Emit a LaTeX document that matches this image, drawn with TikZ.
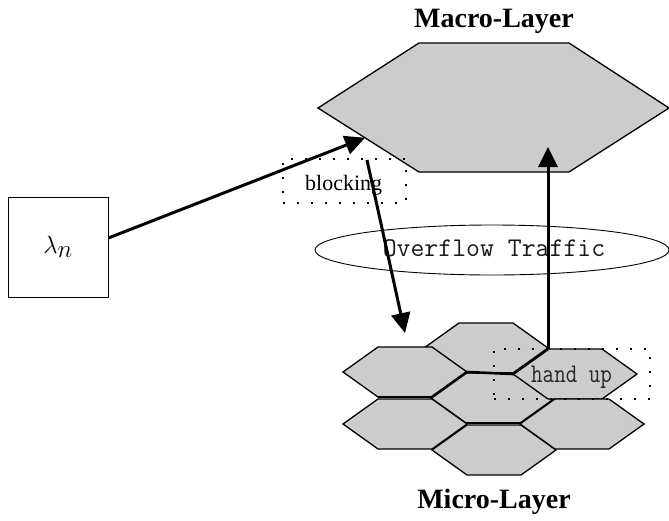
\documentclass[tikz,border=0pt]{standalone}
\usepackage{fontspec}
\setmainfont{Liberation Serif}
\usetikzlibrary{arrows.meta,calc,shapes.geometric}
\begin{document}
\begin{tikzpicture}[x=1pt,y=-1pt,
  hexcell/.style={fill=black!20, draw=black, line width=1.3pt, line join=miter},
  seam/.style={line width=2.6pt, line join=miter},
  flow/.style={line width=3pt, -{Triangle[length=20pt,width=19pt]}},
  dotbox/.style={draw=black, line width=1.8pt, dash pattern=on 1.8pt off 12.2pt},
  layerlbl/.style={font=\bfseries\fontsize{28}{28}\selectfont, anchor=base, inner sep=0pt},
  micro/.pic={\path[hexcell] (-62,0) coordinate (-l) -- (-27,-25) coordinate (-tl)
      -- (27,-25) coordinate (-tr) -- (62,0) coordinate (-r) -- (27,25) coordinate (-br)
      -- (-27,25) coordinate (-bl) -- cycle;}
]
\useasboundingbox (0,0) rectangle (669,520);

% macro layer
\path[hexcell] (318,108) coordinate (M-l) -- (419,43) coordinate (M-tl)
  -- (569,43) coordinate (M-tr) -- (669,108) coordinate (M-r)
  -- (569,172) coordinate (M-br) -- (419,172) coordinate (M-bl) -- cycle;
\node[layerlbl] (macrolbl) at (494,27) {Macro-Layer};

% source box
\node[draw, line width=0.8pt, minimum size=100pt, inner sep=0pt] (lam) at (58,247)
  {\fontsize{30}{30}\selectfont$\lambda_{\textstyle n}$};

% overflow ellipse
\node[draw, ellipse, line width=0.9pt, minimum width=354pt, minimum height=50pt, inner sep=0pt] (ovf) at (492,250) {};
\node[font=\ttfamily\fontsize{27}{27}\selectfont, anchor=base, inner sep=0pt, text=black!90] (ovftext) at (494,256) {Overflow Traffic};

% micro layer
\pic (hA) at (486,348) {micro};
\pic (hB) at (405,372) {micro};
\pic (hD) at (493,398) {micro};
\pic (hC) at (575,374) {micro};
\pic (hE) at (405,424) {micro};
\pic (hF) at (494,450) {micro};
\pic (hG) at (582,424) {micro};
\draw[seam] (hB-bl) -- (hB-br);
\draw[seam] (hB-br) -- (hB-r) -- (hC-l) -- (hC-tl);
\draw[seam] (hD-bl) -- (hD-br);
\node[layerlbl] (microlbl) at (494,508) {Micro-Layer};

% dotted boxes and labels
\node[dotbox, minimum width=123pt, minimum height=44pt, inner sep=0pt] (blkbox) at (344.5,181) {};
\node[font=\fontsize{22}{22}\selectfont, anchor=base west, inner sep=0pt] (blk) at (305,190) {blocking};
\node[dotbox, minimum width=156pt, minimum height=50pt, inner sep=0pt] (hubox) at (572,374) {};
\node[font=\ttfamily\fontsize{27}{27}\selectfont, anchor=base west, inner sep=0pt, text=black!85] (hu) at (531,382) {\scalebox{0.83}[1]{hand up}};

% connectors
\coordinate (blktip) at ($(M-l)!0.465!(M-bl)$);
\coordinate (dnstart) at (367,160);
\coordinate (dnend) at (405,333);
\draw[flow] ([yshift=9pt]lam.east) -- (blktip);
\draw[flow] (dnstart) -- (dnend);
\draw[flow] (hC-tl) -- (hC-tl |- 0,147);
\end{tikzpicture}
\end{document}
